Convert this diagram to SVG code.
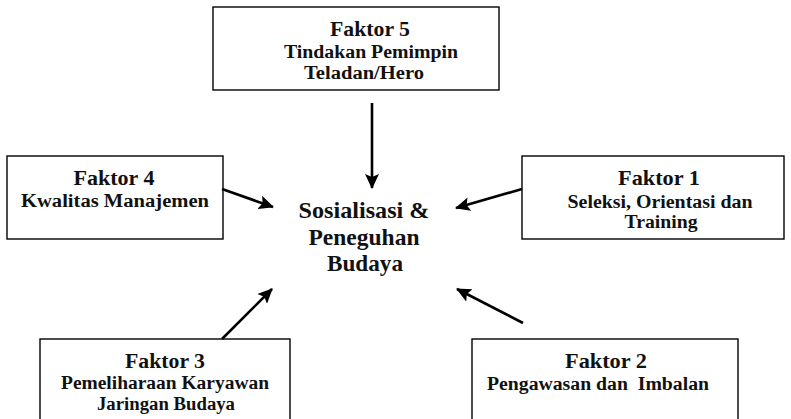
<svg xmlns="http://www.w3.org/2000/svg" width="791" height="419" viewBox="0 0 791 419">
<defs>
<style>
.box{fill:#fff;stroke:#000;stroke-width:1.4}
text{font-family:"Liberation Serif","Times New Roman",serif;font-weight:bold;fill:#111;text-anchor:middle}
.t{font-size:22px}
.s{font-size:18.5px}
.c{font-size:22.5px}
.ar{stroke:#000;stroke-width:2.6;fill:none;marker-end:url(#ah)}
</style>
<marker id="ah" markerUnits="userSpaceOnUse" markerWidth="16" markerHeight="14" refX="14" refY="7" orient="auto">
<path d="M0,0 L15,7 L0,14 L3,7 Z" fill="#000"/>
</marker>
</defs>
<rect width="791" height="419" fill="#fff"/>
<g id="faktor5">
<rect class="box" x="213" y="7" width="286" height="83"/>
<text class="t" x="370" y="36" textLength="80" lengthAdjust="spacingAndGlyphs">Faktor 5</text>
<text class="s" x="371" y="58" textLength="174" lengthAdjust="spacingAndGlyphs">Tindakan Pemimpin</text>
<text class="s" x="364" y="79" textLength="120" lengthAdjust="spacingAndGlyphs">Teladan/Hero</text>
</g>
<g id="faktor4">
<rect class="box" x="7" y="156" width="216" height="83"/>
<text class="t" x="114" y="185" textLength="81" lengthAdjust="spacingAndGlyphs">Faktor 4</text>
<text class="s" x="115" y="207" textLength="188" lengthAdjust="spacingAndGlyphs">Kwalitas Manajemen</text>
</g>
<g id="faktor1">
<rect class="box" x="522" y="156" width="262" height="83"/>
<text class="t" x="659" y="185" textLength="82" lengthAdjust="spacingAndGlyphs">Faktor 1</text>
<text class="s" x="660" y="208" textLength="185" lengthAdjust="spacingAndGlyphs">Seleksi, Orientasi dan</text>
<text class="s" x="661" y="228" textLength="73" lengthAdjust="spacingAndGlyphs">Training</text>
</g>
<g id="faktor3">
<rect class="box" x="40" y="339" width="250" height="90"/>
<text class="t" x="165" y="368" textLength="80" lengthAdjust="spacingAndGlyphs">Faktor 3</text>
<text class="s" x="165" y="389" textLength="208" lengthAdjust="spacingAndGlyphs">Pemeliharaan Karyawan</text>
<text class="s" x="166" y="410" textLength="138" lengthAdjust="spacingAndGlyphs">Jaringan Budaya</text>
</g>
<g id="faktor2">
<rect class="box" x="472" y="339" width="266" height="90"/>
<text class="t" x="606" y="368" textLength="82" lengthAdjust="spacingAndGlyphs">Faktor 2</text>
<text class="s" x="598" y="390" textLength="222" lengthAdjust="spacingAndGlyphs" xml:space="preserve">Pengawasan dan  Imbalan</text>
</g>
<g id="center">
<text class="c" x="364" y="218" textLength="131" lengthAdjust="spacingAndGlyphs">Sosialisasi &amp;</text>
<text class="c" x="364" y="245" textLength="111" lengthAdjust="spacingAndGlyphs">Peneguhan</text>
<text class="c" x="365" y="271" textLength="76" lengthAdjust="spacingAndGlyphs">Budaya</text>
</g>
<g id="connectors">
<line class="ar" x1="372" y1="103" x2="372" y2="188"/>
<line class="ar" x1="222" y1="189" x2="273" y2="207"/>
<line class="ar" x1="522" y1="189" x2="456" y2="208"/>
<line class="ar" x1="222" y1="339" x2="272" y2="289"/>
<line class="ar" x1="523" y1="323" x2="457" y2="289"/>
</g>
</svg>
